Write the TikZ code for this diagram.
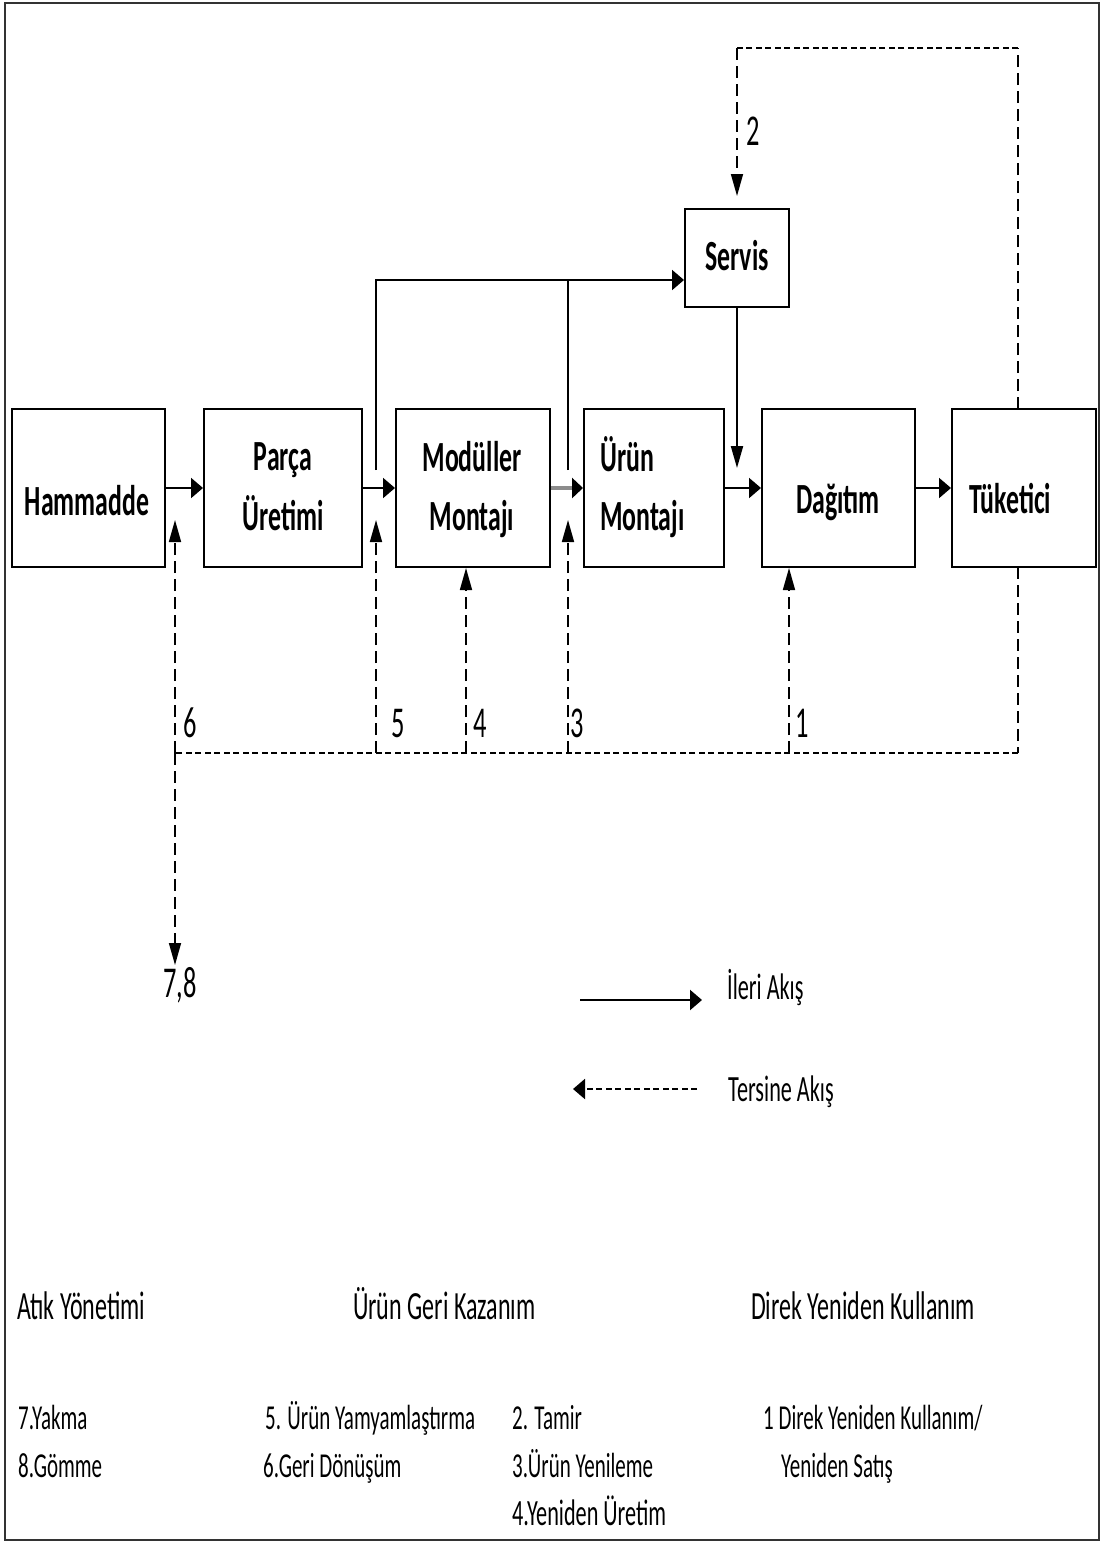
\documentclass[tikz,border=0pt]{standalone}
\usepackage{fontspec}
\setmainfont{Carlito}[FakeStretch=0.6]
\usetikzlibrary{arrows.meta}
\begin{document}
\begin{tikzpicture}[x=1pt,y=-1pt,
  box/.style={draw, line width=2pt, rectangle, inner sep=0pt},
  boxtxt/.style={font=\fontsize{43}{58}\selectfont\bfseries, inner sep=0pt, anchor=base},
  numtxt/.style={font=\fontsize{44}{50}\selectfont, inner sep=0pt, anchor=base west},
  legtxt/.style={font=\fontsize{37}{44}\selectfont, inner sep=0pt, anchor=base west},
  headtxt/.style={font=\fontsize{40}{46}\selectfont, inner sep=0pt, anchor=base west},
  listtxt/.style={font=\fontsize{35}{44}\selectfont, inner sep=0pt, anchor=base west},
  htip/.style={-{Triangle[length=12pt,width=20pt]}},
  vtip/.style={-{Triangle[length=22pt,width=12pt]}},
  fwd/.style={line width=2pt, htip},
  fwdv/.style={line width=2pt, vtip},
  plain/.style={line width=2pt},
  hdash/.style={line width=2pt, dash pattern=on 6pt off 3.5pt},
  vdash/.style={line width=1.6pt, dash pattern=on 12pt off 6pt},
]
\useasboundingbox (0,0) rectangle (1100,1542);
% frame
\draw[line width=2.2pt, black!80] (5,3) rectangle (1099,1540);

% process boxes
\node[box, minimum width=153pt, minimum height=158pt] (ham) at (88.5,488) {};
\node[box, minimum width=158pt, minimum height=158pt] (parca) at (283,488) {};
\node[box, minimum width=154pt, minimum height=158pt] (mod) at (473,488) {};
\node[box, minimum width=140pt, minimum height=158pt] (urun) at (654,488) {};
\node[box, minimum width=153pt, minimum height=158pt] (dag) at (838.5,488) {};
\node[box, minimum width=144pt, minimum height=158pt] (tuk) at (1024,488) {};
\node[box, minimum width=104pt, minimum height=98pt] (servis) at (737,258) {};

% box captions
\node[boxtxt] (tham) at (87,515) {Hammadde};
\node[boxtxt] (tparcaA) at (283,470) {Parça};
\node[boxtxt] (tparcaB) at (283,530) {Üretimi};
\node[boxtxt] (tmodA) at (472,471) {Modüller};
\node[boxtxt] (tmodB) at (472,530) {Montajı};
\node[boxtxt, anchor=base west] (turunA) at (600,471) {Ürün};
\node[boxtxt, anchor=base west] (turunB) at (600,530) {Montajı};
\node[boxtxt] (tdag) at (838,513) {Dağıtım};
\node[boxtxt, anchor=base west] (ttuk) at (969,513) {Tüketici};
\node[boxtxt] (tservis) at (737,270) {Servis};

% forward flow
\draw[fwd] (ham.east) -- (parca.west);
\draw[fwd] (parca.east) -- (mod.west);
\draw[line width=4pt, black!45, -{Triangle[length=11pt,width=20pt,color=black]}] (mod.east) -- (urun.west);
\draw[fwd] (urun.east) -- (dag.west);
\draw[fwd] (dag.east) -- (tuk.west);

% feeds to the service point
\coordinate (f5) at (376,470);
\coordinate (f3) at (568,470);
\coordinate (jn) at (568,280);
\coordinate (sd) at (737,468);
\draw[fwd] (f5) |- (servis.west |- jn);
\draw[plain] (f3) -- (jn);
\draw[fwdv] (servis.south) -- (sd);

% reverse flow: repair loop
\coordinate (rt) at (1018,409);
\coordinate (rtop) at (1018,48);
\coordinate (ltop) at (737,48);
\draw[vdash] (rt) -- (rtop);
\draw[hdash] (rtop) -- (ltop);
\draw[vdash, vtip, shorten >=12pt] (ltop) -- (servis.north);
\node[numtxt] (n2) at (746,145) {2};

% reverse flow: collection line
\coordinate (rb) at (1018,567);
\coordinate (rbot) at (1018,753);
\coordinate (c6) at (175,753);
\coordinate (c5) at (376,753);
\coordinate (c4) at (466,753);
\coordinate (c3) at (568,753);
\coordinate (c1) at (789,753);
\coordinate (e6) at (175,520);
\coordinate (e5) at (376,520);
\coordinate (e3) at (568,520);
\coordinate (waste) at (175,965);
\draw[vdash] (rb) -- (rbot);
\draw[hdash] (rbot) -- (c6);
\draw[vdash, vtip] (c6) -- (e6);
\draw[vdash, vtip] (c6) -- (waste);
\draw[vdash, vtip] (c5) -- (e5);
\draw[vdash, vtip] (c4) -- (mod.south -| c4);
\draw[vdash, vtip] (c3) -- (e3);
\draw[vdash, vtip] (c1) -- (dag.south -| c1);

\node[numtxt] (n6) at (183,737) {6};
\node[numtxt] (n5) at (391,737) {5};
\node[numtxt] (n4) at (473,737) {4};
\node[numtxt] (n3) at (570,737) {3};
\node[numtxt] (n1) at (795,737) {1};
\node[numtxt] (n78) at (163,997) {7,8};

% legend
\coordinate (lsA) at (580,1000);
\coordinate (lsB) at (702,1000);
\coordinate (ldA) at (697,1089);
\coordinate (ldB) at (573,1089);
\draw[line width=2.4pt, htip] (lsA) -- (lsB);
\draw[hdash, htip] (ldA) -- (ldB);
\node[legtxt] (lfwd) at (727,999) {İleri Akış};
\node[legtxt] (lrev) at (728,1101) {Tersine Akış};

% category headings
\node[headtxt] (h1) at (17,1319) {Atık Yönetimi};
\node[headtxt] (h2) at (353,1319) {Ürün Geri Kazanım};
\node[headtxt] (h3) at (751,1319) {Direk Yeniden Kullanım};

% category items
\node[listtxt] (a7) at (18,1429) {7.Yakma};
\node[listtxt] (a8) at (18,1477) {8.Gömme};
\node[listtxt] (b5) at (265,1429) {5. Ürün Yamyamlaştırma};
\node[listtxt] (b6) at (263,1477) {6.Geri Dönüşüm};
\node[listtxt] (b2) at (512,1429) {2. Tamir};
\node[listtxt] (b3) at (512,1477) {3.Ürün Yenileme};
\node[listtxt, font=\fontsize{37}{44}\selectfont] (b4) at (512,1525) {4.Yeniden Üretim};
\node[listtxt] (c1t) at (763,1429) {1 Direk Yeniden Kullanım/};
\node[listtxt] (c1u) at (781,1477) {Yeniden Satış};
\end{tikzpicture}
\end{document}
